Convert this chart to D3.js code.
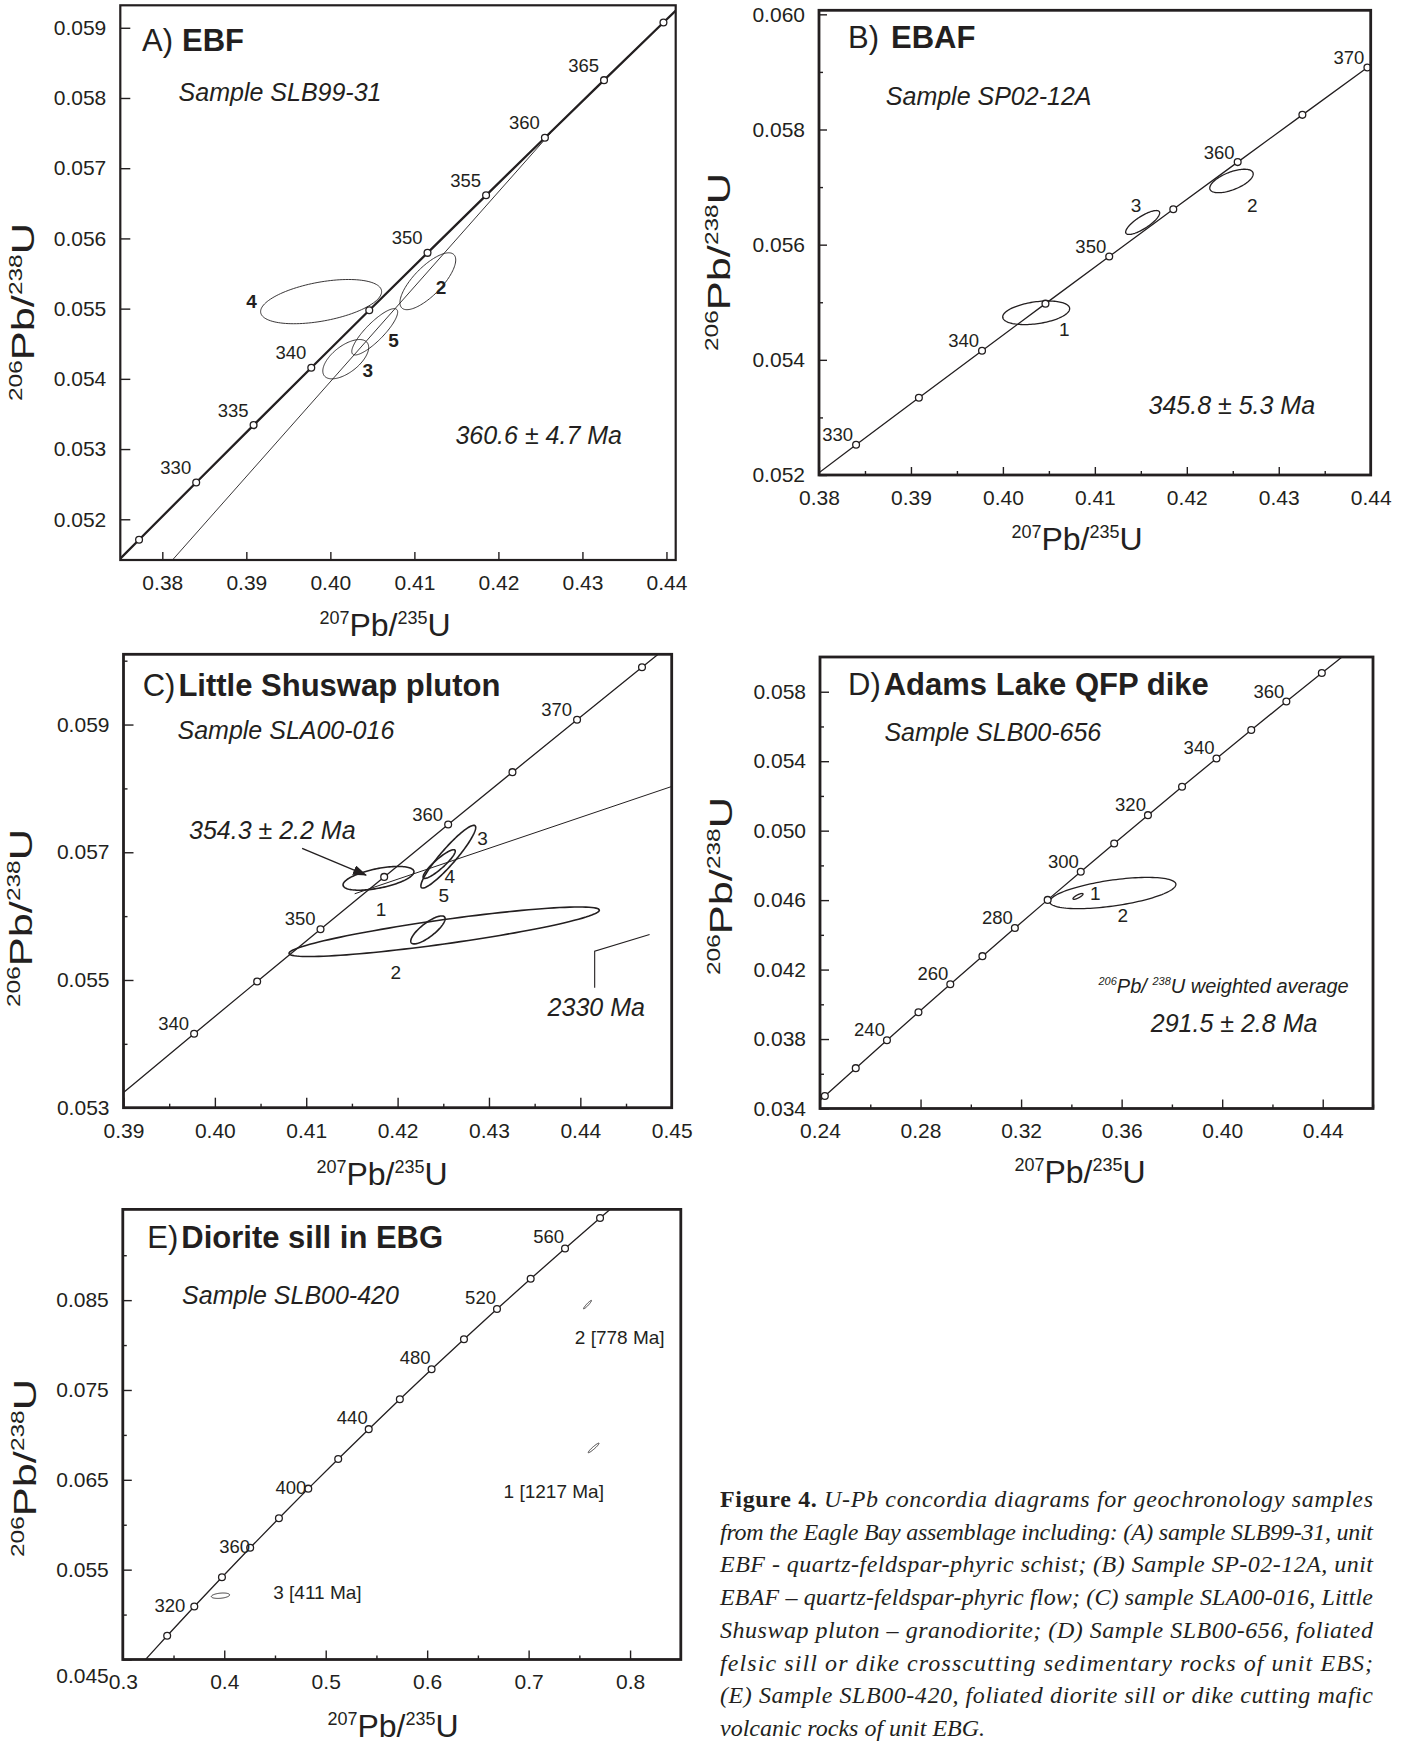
<!DOCTYPE html>
<html><head><meta charset="utf-8">
<script src="https://cdn.jsdelivr.net/npm/d3@7"></script>
<style>html,body{margin:0;padding:0;background:#fff}svg{display:block}</style>
</head><body>
<svg id="fig" width="1414" height="1744"></svg>
<script>
// ================= DATA =================
// Concordia reference points (age in Ma, 207Pb/235U, 206Pb/238U)
const concAges5 = [320,325,330,335,340,345,350,355,360,365,370,375,380];
const concX5 = [0.370467,0.377233,0.384032,0.390863,0.397729,0.404629,0.411563,0.418531,0.425534,0.432570,0.439642,0.446749,0.453890];
const concY5 = [0.0508927,0.0517079,0.0525242,0.0533409,0.0541581,0.0549761,0.0557947,0.0566139,0.0574338,0.0582543,0.0590754,0.0598971,0.0607195];

const concAges10 = [210,220,230,240,250,260,270,280,290,300,310,320,330,340,350,360,370,380];
const concX10 = [0.229760,0.241926,0.254222,0.266635,0.279171,0.291832,0.304618,0.317528,0.330568,0.343739,0.357037,0.370467,0.384032,0.397729,0.411563,0.425534,0.439642,0.453890];
const concY10 = [0.0331127,0.0347165,0.0363229,0.0379317,0.0395431,0.0411569,0.0427733,0.0443921,0.0460135,0.0476374,0.0492638,0.0508927,0.0525242,0.0541581,0.0557947,0.0574338,0.0590754,0.0607195];

const concAges20 = [280,300,320,340,360,380,400,420,440,460,480,500,520,540,560,580,600];
const concX20 = [0.317528,0.343739,0.370467,0.397729,0.425534,0.453890,0.482811,0.512307,0.542392,0.573073,0.604364,0.636282,0.668829,0.702026,0.735882,0.770413,0.805632];
const concY20 = [0.0443921,0.0476374,0.0508927,0.0541581,0.0574338,0.0607195,0.0640155,0.0673218,0.0706382,0.0739651,0.0773024,0.0806497,0.0840077,0.0873759,0.0907546,0.0941414,0.0975440];

// marked and labelled ages per panel
const markA = [325,330,335,340,345,350,355,360,365,370];
const labelA = [330,335,340,350,355,360,365];
const markB = [330,335,340,345,350,355,360,365,370];
const labelB = [330,340,350,360,370];
const markC = [340,345,350,355,360,365,370,375];
const labelC = [340,350,360,370];
const markD = [220,230,240,250,260,270,280,290,300,310,320,330,340,350,360,370];
const labelD = [240,260,280,300,320,340,360];
const markE = [300,320,340,360,380,400,420,440,460,480,500,520,540,560,580];
const labelE = [320,360,400,440,480,520,560];

// error ellipses: centre, half-widths (x, y) and error correlation
const ellA = [
  {id:"4", x:0.39890, y:0.055100, sx:0.00720, sy:0.000315, rho:0.45},
  {id:"2", x:0.41160, y:0.055390, sx:0.00332, sy:0.000405, rho:0.75},
  {id:"5", x:0.40528, y:0.054670, sx:0.00273, sy:0.000330, rho:0.85},
  {id:"3", x:0.40183, y:0.054280, sx:0.00273, sy:0.000280, rho:0.60}
];
const ellB = [
  {id:"1", x:0.40362, y:0.054817, sx:0.00364, sy:0.000205, rho:0.35},
  {id:"3", x:0.41520, y:0.056385, sx:0.00185, sy:0.000208, rho:0.80},
  {id:"2", x:0.42486, y:0.057106, sx:0.00236, sy:0.000204, rho:0.60}
];
const ellC = [
  {id:"1", x:0.41791, y:0.056592, sx:0.00388, sy:0.000186, rho:0.55},
  {id:"3", x:0.42555, y:0.056931, sx:0.00300, sy:0.000491, rho:0.93},
  {id:"4", x:0.42455, y:0.056815, sx:0.00176, sy:0.000225, rho:0.90},
  {id:"2", x:0.42510, y:0.055755, sx:0.01698, sy:0.000388, rho:0.87},
  {id:"5", x:0.42332, y:0.055784, sx:0.00188, sy:0.000219, rho:0.80}
];
const ellD = [
  {id:"2", x:0.35649, y:0.046408, sx:0.02510, sy:0.000900, rho:0.55},
  {id:"1", x:0.34264, y:0.046214, sx:0.00200, sy:0.000167, rho:0.80}
];
const ellE = [
  {id:"2 [778 Ma]",  x:0.75806, y:0.08450, sx:0.0039, sy:0.00047, rho:0.95},
  {id:"1 [1217 Ma]", x:0.76406, y:0.06855, sx:0.0053, sy:0.00053, rho:0.95},
  {id:"3 [411 Ma]",  x:0.39630, y:0.05210, sx:0.0090, sy:0.00030, rho:0.30}
];
// ellipse label anchors (data units)
const ellLabA = [[0.39061,0.05510],[0.41316,0.05531],[0.40752,0.05455],[0.40446,0.05412]];
const ellLabB = [[0.40667,0.054537],[0.41448,0.056691],[0.42711,0.056691]];
const ellLabC = [[0.41818,0.056104],[0.42930,0.057220],[0.42570,0.056620],[0.41979,0.055116],[0.42505,0.056328]];
const ellLabD = [[0.36041,0.045143],[0.34955,0.046376]];
const ellLabE = [[0.74559,0.080078],[0.67536,0.063007],[0.44825,0.051782]];

// discordia lines and annotations
const discA = [[0.38106,0.05140],[0.42620,0.05750]];
const discC = [[0.41530,0.05635],[0.45000,0.05803]];
const arrowC = [[0.40955,0.05706],[0.41655,0.056643]];
const markC2330 = [[0.44758,0.055711],[0.44157,0.055452],[0.44157,0.054879]];

// axis ticks
const xTicksA = [0.38,0.39,0.40,0.41,0.42,0.43,0.44];
const yTicksA = [0.052,0.053,0.054,0.055,0.056,0.057,0.058,0.059];
const xTicksB = [0.38,0.39,0.40,0.41,0.42,0.43,0.44];
const xMinorB = [0.385,0.395,0.405,0.415,0.425,0.435];
const yTicksB = [0.052,0.054,0.056,0.058,0.060];
const yMinorB = [0.053,0.055,0.057,0.059];
const xTicksC = [0.39,0.40,0.41,0.42,0.43,0.44,0.45];
const xMinorC = [0.395,0.405,0.415,0.425,0.435,0.445];
const yTicksC = [0.053,0.055,0.057,0.059];
const yMinorC = [0.054,0.056,0.058,0.060];
const xTicksD = [0.24,0.28,0.32,0.36,0.40,0.44];
const xMinorD = [0.26,0.30,0.34,0.38,0.42,0.46];
const yTicksD = [0.034,0.038,0.042,0.046,0.050,0.054,0.058];
const yMinorD = [0.036,0.040,0.044,0.048,0.052,0.056];
const xTicksE = [0.3,0.4,0.5,0.6,0.7,0.8];
const xMinorE = [0.35,0.45,0.55,0.65,0.75];
const yTicksE = [0.045,0.055,0.065,0.075,0.085];
const yMinorE = [0.050,0.060,0.070,0.080,0.090];

const titles = [["A)","EBF"],["B)","EBAF"],["C)","Little Shuswap pluton"],["D)","Adams Lake QFP dike"],["E)","Diorite sill in EBG"]];
const samples = ["Sample SLB99-31","Sample SP02-12A","Sample SLA00-016","Sample SLB00-656","Sample SLB00-420"];
const ageText = {A:"360.6 \u00b1 4.7 Ma", B:"345.8 \u00b1 5.3 Ma", C:"354.3 \u00b1 2.2 Ma", C2:"2330 Ma", D:"291.5 \u00b1 2.8 Ma"};

const caption = [
  [["Figure 4.",1],[" U-Pb concordia diagrams for geochronology samples",0]],
  [["from the Eagle Bay assemblage including: (A) sample SLB99-31, unit",0]],
  [["EBF - quartz-feldspar-phyric schist; (B) Sample SP-02-12A, unit",0]],
  [["EBAF \u2013 quartz-feldspar-phyric flow; (C) sample SLA00-016, Little",0]],
  [["Shuswap pluton \u2013 granodiorite; (D) Sample SLB00-656, foliated",0]],
  [["felsic sill or dike crosscutting sedimentary rocks of unit EBS;",0]],
  [["(E) Sample SLB00-420, foliated diorite sill or dike cutting mafic",0]],
  [["volcanic rocks of unit EBG.",0]]
];

// ================= DRAWING =================
const INK = "#231f20";
const SANS = "'Liberation Sans', Arial, Helvetica, sans-serif";
const SERIF = "'Liberation Serif', 'Times New Roman', Times, serif";
const svg = d3.select("#fig");
const defs = svg.append("defs");
defs.append("marker").attr("id","arrowHead").attr("viewBox","0 0 14 10").attr("refX",13).attr("refY",5)
  .attr("markerWidth",14).attr("markerHeight",10).attr("markerUnits","userSpaceOnUse").attr("orient","auto")
  .append("path").attr("d","M0,0 L14,5 L0,10 Z").attr("fill",INK);

function zipConc(ages, xs, ys){ return ages.map((a,i)=>({age:a, x:xs[i], y:ys[i]})); }

function panel(cfg){
  const b = cfg.box;
  const x = d3.scaleLinear().domain(cfg.xDomain).range([b.x0,b.x1]);
  const y = d3.scaleLinear().domain(cfg.yDomain).range([b.y1,b.y0]);
  const g = svg.append("g");
  const cid = "clip"+cfg.key;
  defs.append("clipPath").attr("id",cid).append("rect")
    .attr("x",b.x0).attr("y",b.y0).attr("width",b.x1-b.x0).attr("height",b.y1-b.y0);

  function styleAxis(sel){
    sel.select(".domain").remove();
    sel.attr("font-family",SANS).attr("font-size",21);
    sel.selectAll("line").attr("stroke",INK).attr("stroke-width",1.4);
    sel.selectAll("text").attr("fill",INK);
  }
  if (cfg.xMinor){
    g.append("g").attr("transform",`translate(0,${b.y1})`)
      .call(d3.axisBottom(x).tickValues(cfg.xMinor).tickFormat("").tickSizeInner(-cfg.tMinor).tickSizeOuter(0)).call(styleAxis);
  }
  if (cfg.yMinor){
    g.append("g").attr("transform",`translate(${b.x0},0)`)
      .call(d3.axisLeft(y).tickValues(cfg.yMinor).tickFormat("").tickSizeInner(-cfg.tMinor).tickSizeOuter(0)).call(styleAxis);
  }
  g.append("g").attr("transform",`translate(0,${b.y1})`)
    .call(d3.axisBottom(x).tickValues(cfg.xTicks).tickFormat(d3.format(cfg.xFmt)).tickSizeInner(-cfg.tMajorX).tickSizeOuter(0).tickPadding(15))
    .call(styleAxis);
  const yAx = g.append("g").attr("transform",`translate(${b.x0},0)`)
    .call(d3.axisLeft(y).tickValues(cfg.yTicks).tickFormat(d3.format(cfg.yFmt)).tickSizeInner(-cfg.tMajorY).tickSizeOuter(0).tickPadding(14))
    .call(styleAxis);
  if (cfg.lowLabelShift){
    yAx.selectAll(".tick").filter(d=>d===cfg.yTicks[0]).select("text").attr("transform",`translate(0,${cfg.lowLabelShift})`);
  }

  const plot = g.append("g").attr("clip-path",`url(#${cid})`);
  const line = d3.line().x(d=>x(d.x)).y(d=>y(d.y));
  const conc = zipConc(cfg.ages, cfg.cx, cfg.cy);
  plot.append("path").datum(conc).attr("d",line.curve(d3.curveCatmullRom))
    .attr("fill","none").attr("stroke",INK).attr("stroke-width",cfg.concWidth);

  if (cfg.disc){
    plot.append("path").datum(cfg.disc.map(p=>({x:p[0],y:p[1]}))).attr("d",d3.line().x(d=>x(d.x)).y(d=>y(d.y)))
      .attr("fill","none").attr("stroke",INK).attr("stroke-width",cfg.discWidth);
  }

  cfg.ell.forEach((e,i)=>{
    const pts = d3.range(0,360,3).map(a=>{
      const t=a*Math.PI/180;
      return [x(e.x+e.sx*Math.cos(t)), y(e.y+e.sy*(e.rho*Math.cos(t)+Math.sqrt(1-e.rho*e.rho)*Math.sin(t)))];
    });
    plot.append("path").attr("d",d3.line().curve(d3.curveLinearClosed)(pts))
      .attr("fill","none").attr("stroke",INK).attr("stroke-width",cfg.ellWidth);
    const L = cfg.ellLab[i];
    g.append("text").attr("x",x(L[0])).attr("y",y(L[1]))
      .attr("text-anchor",cfg.ellAnchor).attr("dy",cfg.ellAnchor==="middle"?"0.36em":0)
      .attr("font-family",SANS).attr("font-size",19).attr("font-weight",cfg.ellBold?"bold":"normal")
      .attr("fill",INK).text(e.id);
  });

  const marks = conc.filter(d=>cfg.marks.includes(d.age));
  plot.selectAll("circle.m").data(marks).join("circle")
    .attr("cx",d=>x(d.x)).attr("cy",d=>y(d.y)).attr("r",3.4)
    .attr("fill","#fff").attr("stroke",INK).attr("stroke-width",1.3);
  conc.filter(d=>cfg.labels.includes(d.age)).forEach(d=>{
    const off = cfg.labOff(d.age);
    g.append("text").attr("x",x(d.x)+off[0]).attr("y",y(d.y)+off[1])
      .attr("text-anchor","end").attr("font-family",SANS).attr("font-size",18.5)
      .attr("fill",INK).text(d.age);
  });

  g.append("rect").attr("x",b.x0).attr("y",b.y0).attr("width",b.x1-b.x0).attr("height",b.y1-b.y0)
    .attr("fill","none").attr("stroke",INK).attr("stroke-width",cfg.frameWidth);

  const tt = titles[cfg.idx];
  const tEl = g.append("text").attr("x",b.x0+cfg.title[0]).attr("y",b.y0+cfg.title[1])
    .attr("font-family",SANS).attr("font-size",31).attr("fill",INK);
  tEl.append("tspan").text(tt[0]);
  tEl.append("tspan").attr("dx",cfg.titleGap).attr("font-weight","bold").text(tt[1]);
  g.append("text").attr("x",b.x0+cfg.sample[0]).attr("y",b.y0+cfg.sample[1])
    .attr("font-family",SANS).attr("font-size",25).attr("font-style","italic").attr("fill",INK).text(samples[cfg.idx]);

  function axisTitle(px,py,rot){
    return g.append("text").attr("font-family",SANS).attr("font-size",32).attr("fill",INK)
      .attr("text-anchor","middle")
      .attr("transform",`translate(${px},${py})`+(rot?" rotate(-90)":""));
  }
  const xt = axisTitle(cfg.xTitle[0],cfg.xTitle[1],false);
  const yt = axisTitle(cfg.yTitle[0],cfg.yTitle[1],true)
    .attr("textLength",178).attr("lengthAdjust","spacingAndGlyphs");
  function fill(t, sup1, sup2){
    t.append("tspan").attr("font-size",18).attr("dy",-12).text(sup1);
    t.append("tspan").attr("dy",12).text("Pb/");
    t.append("tspan").attr("font-size",18).attr("dy",-12).text(sup2);
    t.append("tspan").attr("dy",12).text("U");
  }
  fill(xt,"207","235");
  fill(yt,"206","238");
  return {x,y,g};
}

const offA = ()=>[-5,-8.5];
const offB = ()=>[-3,-3.5];
const offC = ()=>[-5,-4];
const offD = ()=>[-2,-4];
const offE = a=> a===320?[-9,5] : a===360?[0,5] : a===400?[-2,5] : [-1,-5];

function italicNote(p, px, py, size, txt){
  return p.g.append("text").attr("x",px).attr("y",py).attr("font-family",SANS).attr("font-size",size)
    .attr("font-style","italic").attr("fill",INK).text(txt);
}

const pA = panel({key:"A", idx:0, box:{x0:120.3,y0:5.3,x1:675.7,y1:560},
  xDomain:[0.375,0.4411], yDomain:[0.05142,0.05932],
  xTicks:xTicksA, yTicks:yTicksA, xFmt:".2f", yFmt:".3f", tMajorX:8, tMajorY:10,
  ages:concAges5, cx:concX5, cy:concY5, marks:markA, labels:labelA, labOff:offA,
  concWidth:2.3, disc:discA, discWidth:0.9, ell:ellA, ellLab:ellLabA, ellWidth:0.9, ellAnchor:"middle", ellBold:true,
  frameWidth:2.2, title:[21.7,45.2], titleGap:9, sample:[58.3,95.7],
  xTitle:[385,636], yTitle:[34,312]});
italicNote(pA, 455.4, 444, 25, ageText.A);

const pB = panel({key:"B", idx:1, box:{x0:819,y0:10.3,x1:1370.7,y1:475},
  xDomain:[0.38,0.44], yDomain:[0.052,0.06007],
  xTicks:xTicksB, yTicks:yTicksB, xMinor:xMinorB, yMinor:yMinorB, tMinor:4, xFmt:".2f", yFmt:".3f", tMajorX:8, tMajorY:8,
  ages:concAges5, cx:concX5, cy:concY5, marks:markB, labels:labelB, labOff:offB,
  concWidth:1.3, ell:ellB, ellLab:ellLabB, ellWidth:1.3, ellAnchor:"middle", ellBold:false,
  frameWidth:2.8, title:[29,37.9], titleGap:12, sample:[66.8,94.4],
  xTitle:[1077,550], yTitle:[730,262]});
italicNote(pB, 1148.5, 414.4, 25, ageText.B);

const pC = panel({key:"C", idx:2, box:{x0:123.5,y0:654.3,x1:671.7,y1:1107.7},
  xDomain:[0.39,0.45], yDomain:[0.053,0.0601],
  xTicks:xTicksC, yTicks:yTicksC, xMinor:xMinorC, yMinor:yMinorC, tMinor:4, xFmt:".2f", yFmt:".3f", tMajorX:10, tMajorY:10,
  ages:concAges5, cx:concX5, cy:concY5, marks:markC, labels:labelC, labOff:offC,
  concWidth:1.3, disc:discC, discWidth:1.0, ell:ellC, ellLab:ellLabC, ellWidth:1.6, ellAnchor:"middle", ellBold:false,
  frameWidth:2.8, title:[19.2,41.2], titleGap:3, sample:[54,84.3],
  xTitle:[382,1185], yTitle:[32,918]});
italicNote(pC, 189, 839, 25, ageText.C);
italicNote(pC, 547.6, 1016.4, 25, ageText.C2);
pC.g.append("path").datum(arrowC).attr("d",d3.line().x(d=>pC.x(d[0])).y(d=>pC.y(d[1])))
  .attr("fill","none").attr("stroke",INK).attr("stroke-width",1.3).attr("marker-end","url(#arrowHead)");
pC.g.append("path").datum(markC2330).attr("d",d3.line().x(d=>pC.x(d[0])).y(d=>pC.y(d[1])))
  .attr("fill","none").attr("stroke",INK).attr("stroke-width",1.1);

const pD = panel({key:"D", idx:3, box:{x0:820,y0:657,x1:1373,y1:1108.5},
  xDomain:[0.24,0.46], yDomain:[0.034,0.060],
  xTicks:xTicksD, yTicks:yTicksD, xMinor:xMinorD, yMinor:yMinorD, tMinor:4, xFmt:".2f", yFmt:".3f", tMajorX:9, tMajorY:9,
  ages:concAges10, cx:concX10, cy:concY10, marks:markD, labels:labelD, labOff:offD,
  concWidth:1.3, ell:ellD, ellLab:ellLabD, ellWidth:1.3, ellAnchor:"middle", ellBold:false,
  frameWidth:2.8, title:[28,38.3], titleGap:3, sample:[64.4,84.1],
  xTitle:[1080,1183], yTitle:[732,886]});
{
  const t = pD.g.append("text").attr("x",1098.5).attr("y",992.7).attr("font-family",SANS).attr("font-size",20)
    .attr("font-style","italic").attr("fill",INK);
  t.append("tspan").attr("font-size",11).attr("dy",-8).text("206");
  t.append("tspan").attr("dy",8).text("Pb/ ");
  t.append("tspan").attr("font-size",11).attr("dy",-8).text("238");
  t.append("tspan").attr("dy",8).text("U weighted average");
  italicNote(pD, 1150.8, 1032.2, 25, ageText.D);
}

const pE = panel({key:"E", idx:4, box:{x0:122.8,y0:1209.4,x1:680.8,y1:1659.5},
  xDomain:[0.3,0.85], yDomain:[0.045,0.0951],
  xTicks:xTicksE, yTicks:yTicksE, xMinor:xMinorE, yMinor:yMinorE, tMinor:4, xFmt:".1f", yFmt:".3f", tMajorX:9, tMajorY:9,
  lowLabelShift:16,
  ages:concAges20, cx:concX20, cy:concY20, marks:markE, labels:labelE, labOff:offE,
  concWidth:1.3, ell:ellE, ellLab:ellLabE, ellWidth:0.9, ellAnchor:"start", ellBold:false,
  frameWidth:2.8, title:[24.5,39], titleGap:3, sample:[59.3,94.9],
  xTitle:[393,1737], yTitle:[36,1468]});

// caption (justified lines)
const capX0 = 720, capX1 = 1373, capY0 = 1507, capDY = 32.7;
caption.forEach((ln,i)=>{
  const t = svg.append("text").attr("x",capX0).attr("y",capY0+i*capDY)
    .attr("font-family",SERIF).attr("font-size",24).attr("fill",INK);
  if (i < caption.length-1) t.attr("textLength",capX1-capX0).attr("lengthAdjust","spacing");
  ln.forEach(seg=>{
    t.append("tspan").attr("font-weight",seg[1]?"bold":"normal").attr("font-style",seg[1]?"normal":"italic").text(seg[0]);
  });
});
</script>
</body></html>
